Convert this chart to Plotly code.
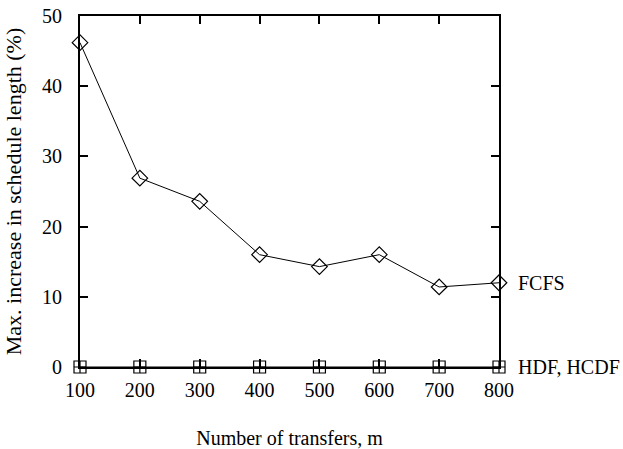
import plotly.graph_objects as go

transfers = [100, 200, 300, 400, 500, 600, 700, 800]
fcfs = [46.2, 26.9, 23.6, 16.0, 14.3, 16.0, 11.4, 12.0]
hdf_hcdf = [0, 0, 0, 0, 0, 0, 0, 0]
x_ticks = [100, 200, 300, 400, 500, 600, 700, 800]
y_ticks = [0, 10, 20, 30, 40, 50]

font = "Liberation Serif"

fig = go.Figure()
fig.add_trace(go.Scatter(
    x=transfers, y=fcfs, mode="lines+markers",
    line=dict(color="black", width=1),
    marker=dict(symbol="diamond-open", size=12, color="black", line=dict(width=1.2)),
    cliponaxis=False, showlegend=False))
fig.add_trace(go.Scatter(
    x=transfers, y=hdf_hcdf, mode="lines+markers",
    line=dict(color="black", width=1),
    marker=dict(symbol="square-cross-open", size=12, color="black", line=dict(width=1.2)),
    cliponaxis=False, showlegend=False))

fig.add_annotation(x=1, xref="paper", y=fcfs[-1], yref="y", text="FCFS",
                   showarrow=False, xanchor="left", xshift=17,
                   font=dict(family=font, size=20, color="black"))
fig.add_annotation(x=1, xref="paper", y=hdf_hcdf[-1], yref="y", text="HDF, HCDF",
                   showarrow=False, xanchor="left", xshift=17,
                   font=dict(family=font, size=20, color="black"))

fig.update_xaxes(range=[100, 800], tickvals=x_ticks, ticks="inside", ticklen=8,
                 tickwidth=2, tickcolor="black", showline=True, linewidth=2,
                 linecolor="black", mirror="ticks", showgrid=False, zeroline=False,
                 ticklabelstandoff=4, automargin=False,
                 tickfont=dict(family=font, size=20, color="black"),
                 title=dict(text="Number of transfers, m", standoff=32,
                            font=dict(family=font, size=20, color="black")))
fig.update_yaxes(range=[0, 50], tickvals=y_ticks, ticks="inside", ticklen=8,
                 tickwidth=2, tickcolor="black", showline=True, linewidth=2,
                 linecolor="black", mirror="ticks", showgrid=False, zeroline=False,
                 ticklabelstandoff=12, automargin=False,
                 tickfont=dict(family=font, size=20, color="black"),
                 title=dict(text="Max. increase in schedule length (%)", standoff=14,
                            font=dict(family=font, size=22, color="black")))

fig.update_layout(width=623, height=449, plot_bgcolor="white", paper_bgcolor="white",
                  margin=dict(l=80, r=124, t=16, b=82))
fig.write_html("out.html")
